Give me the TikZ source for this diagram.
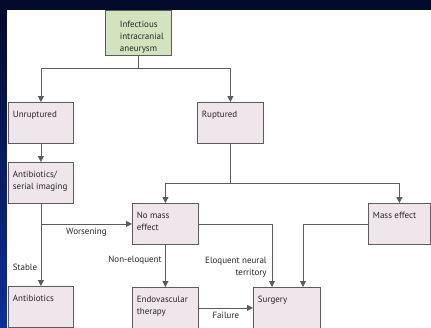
\documentclass[tikz,border=0pt]{standalone}
\usepackage{fontspec}
\setmainfont{PT Sans}
\usetikzlibrary{arrows.meta}
\definecolor{slidebg}{RGB}{3, 10, 43}
\definecolor{slideblue}{RGB}{11, 47, 158}
\definecolor{boxfill}{RGB}{239, 230, 236}
\definecolor{startfill}{RGB}{211, 227, 190}
\definecolor{boxline}{RGB}{92, 92, 92}
\tikzset{
    every node/.style={font=\fontsize{9}{12}\selectfont, text=black!85},
    box/.style={draw=boxline, fill=boxfill, line width=0.8pt, anchor=north west,
        inner xsep=0pt, inner ysep=9pt,
        execute at begin node={\begin{minipage}[t][23pt][t]{#1}\raggedright\leftskip=4.5pt\relax},
        execute at end node={\end{minipage}}},
    box/.default=66pt,
    startbox/.style={box, fill=startfill, inner ysep=11pt,
        execute at begin node={\begin{minipage}[t][36pt][t]{67pt}\raggedright\leftskip=10pt\relax},
        execute at end node={\end{minipage}}},
    arr/.style={draw=boxline, line width=0.8pt, -{Triangle[length=6pt, width=6pt]}},
}

\begin{document}
\begin{tikzpicture}[x=1pt, y=-1pt]
    \useasboundingbox (0, 0) rectangle (431, 327);
    \clip (0, 0) rectangle (431, 327);
    \fill[slidebg] (0, 0) rectangle (431, 327);
    \shade[top color=slidebg, bottom color=slideblue] (0, 10) rectangle (7, 327);
    \fill[white] (7, 10) rectangle (431, 327);

    \node[startbox] (start) at (105, 10) {Infectious\\intracranial\\aneurysm};
    \node[box=65pt] (unr) at (8, 102) {Unruptured};
    \node[box] (rup) at (197, 102) {Ruptured};
    \node[box=65pt] (abser) at (8, 162) {Antibiotics/\\serial imaging};
    \node[box=65pt] (abx) at (8, 286) {Antibiotics};
    \node[box] (nomass) at (132, 203) {No mass\\effect};
    \node[box=62pt] (mass) at (368, 203) {Mass effect};
    \node[box] (endo) at (132, 287) {Endovascular\\therapy};
    \node[box=67pt] (surg) at (253, 287) {Surgery};

    \draw[arr] (start.south) -- ++(0, 13) -| (unr.north);
    \draw[arr] (start.south) -- ++(0, 13) -| (rup.north);
    \draw[arr] (unr) -- (abser);
    \draw[arr] (abser) -- node[left, pos=0.77] {Stable} (abx);
    \draw[arr] (abser.south |- nomass.west) -- node[below] {Worsening} (nomass.west);
    \draw[arr] (rup.south) -- ++(0, 40) -| (nomass.north);
    \draw[arr] (rup.south) -- ++(0, 40) -| (mass.north);
    \draw[arr] (nomass) -- node[left, pos=0.36] {Non-eloquent} (endo);
    \draw[arr] (nomass.east) -| node[left, align=right, pos=0.84, inner sep=5pt]
        {Eloquent neural\\territory} ([xshift=19pt]surg.north west);
    \draw[arr] (mass.west) -| ([xshift=50pt]surg.north west);
    \draw[arr] (endo) -- node[below] {Failure} (surg);
\end{tikzpicture}
\end{document}
